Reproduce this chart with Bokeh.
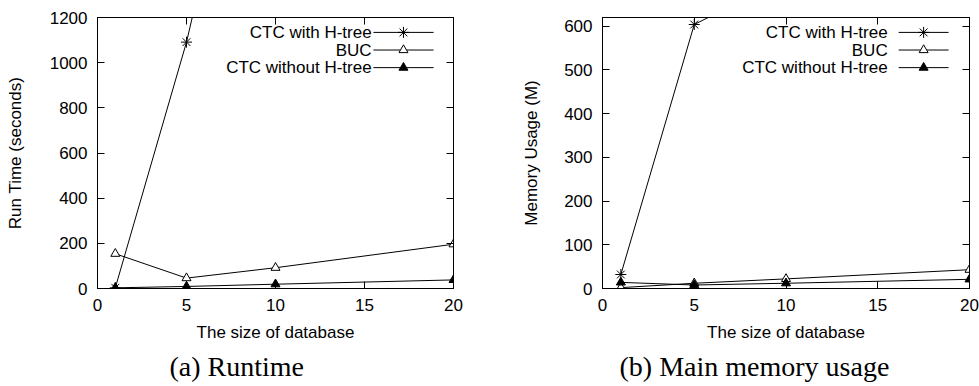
from bokeh.plotting import figure
from bokeh.layouts import row
from bokeh.models import LinearAxis, Range1d, FixedTicker, Title
from bokeh.core.properties import value
from bokeh.embed import file_html
from bokeh.resources import INLINE

# ---- data ----
db_size = [1, 5, 10, 20]
series_names = ["CTC with H-tree", "BUC", "CTC without H-tree"]

runtime_ctc_htree = [3, 1091, 2780, 6000]
runtime_buc = [154, 46, 92, 196]
runtime_ctc_no_htree = [3, 9, 19, 38]

memory_ctc_htree = [32, 604, 709, 900]
memory_buc = [2, 12, 22, 43]
memory_ctc_no_htree = [14, 8, 12, 21]

x_ticks = [0, 5, 10, 15, 20]
runtime_ticks = [0, 200, 400, 600, 800, 1000, 1200]
memory_ticks = [0, 100, 200, 300, 400, 500, 600]

SANS = "Liberation Sans"
SERIF = "Liberation Serif"
FS = "17px"
MARKERS = [("asterisk", None), ("triangle", "white"), ("triangle", "black")]


def make_panel(width, ymax, yticks, ylabel, caption, series, borders,
               ylabel_standoff, caption_offset, leg):
    bl, br = borders
    p = figure(width=width, height=386, x_range=Range1d(0, 20),
               y_range=Range1d(0, ymax), output_backend="svg",
               toolbar_location=None, min_border_left=bl,
               min_border_right=br, min_border_top=17, min_border_bottom=98)
    p.xgrid.visible = False
    p.ygrid.visible = False
    p.outline_line_color = "black"
    p.outline_line_width = 1
    p.background_fill_color = "white"
    p.border_fill_color = "white"

    for ax, ticks in ((p.xaxis[0], x_ticks), (p.yaxis[0], yticks)):
        ax.ticker = FixedTicker(ticks=ticks)
        ax.major_tick_in = 7
        ax.major_tick_out = 0
        ax.minor_tick_line_color = None
        ax.axis_line_color = "black"
        ax.major_tick_line_color = "black"
        ax.major_label_text_font = SANS
        ax.major_label_text_font_size = FS
        ax.major_label_text_color = "black"
        ax.axis_label_text_font = SANS
        ax.axis_label_text_font_size = FS
        ax.axis_label_text_font_style = "normal"
        ax.axis_label_text_color = "black"
    p.xaxis.major_label_standoff = 10
    p.yaxis.major_label_standoff = 10
    p.xaxis.axis_label = "The size of database"
    p.xaxis.axis_label_standoff = 9
    p.yaxis.axis_label = ylabel
    p.yaxis.axis_label_standoff = ylabel_standoff

    # mirrored ticks (gnuplot style), no labels
    for side, ticks in (("right", yticks), ("above", x_ticks)):
        ax = LinearAxis(ticker=FixedTicker(ticks=ticks))
        ax.major_tick_in = 7
        ax.major_tick_out = 0
        ax.minor_tick_line_color = None
        ax.major_label_text_color = None
        ax.major_label_standoff = 0
        ax.axis_line_color = "black"
        p.add_layout(ax, side)

    for ys, (marker, fill) in zip(series, MARKERS):
        p.line(db_size, ys, line_color="black", line_width=1)
        if fill is None:
            p.scatter(db_size, ys, marker=marker, size=11,
                      line_color="black", line_width=1)
        else:
            p.scatter(db_size, ys, marker=marker, size=9,
                      line_color="black", fill_color=fill, line_width=1)

    # legend (gnuplot style: text, then sample on the right) in frame units
    p.extra_x_ranges = {"lx": Range1d(0, 1)}
    p.extra_y_ranges = {"ly": Range1d(0, 1)}
    text_right, line_x0, line_x1, top, step = leg
    ly = [top - i * step for i in range(len(series_names))]
    p.text(x=[text_right] * 3, y=ly, text=series_names, text_align="right",
           text_baseline="middle", text_font=value(SANS),
           text_font_size=FS, text_color="black",
           x_range_name="lx", y_range_name="ly")
    p.segment(x0=[line_x0] * 3, x1=[line_x1] * 3, y0=ly, y1=ly,
              line_color="black", line_width=1,
              x_range_name="lx", y_range_name="ly")
    mid = (line_x0 + line_x1) / 2
    for yy, (marker, fill) in zip(ly, MARKERS):
        if fill is None:
            p.scatter([mid], [yy], marker=marker, size=11, line_color="black",
                      x_range_name="lx", y_range_name="ly")
        else:
            p.scatter([mid], [yy], marker=marker, size=9, line_color="black",
                      fill_color=fill, x_range_name="lx", y_range_name="ly")

    t = Title(text=caption, align="left", text_font=SERIF,
              text_font_size="28px", text_font_style="normal",
              text_color="black", offset=caption_offset, standoff=9)
    p.add_layout(t, "below")
    return p


p1 = make_panel(489, 1200, runtime_ticks, "Run Time (seconds)", "(a) Runtime",
                [runtime_ctc_htree, runtime_buc, runtime_ctc_no_htree],
                (97, 36), 22, 72, (0.77, 0.775, 0.944, 0.945, 0.065))
p2 = make_panel(490, 620, memory_ticks, "Memory Usage (M)",
                "(b) Main memory usage",
                [memory_ctc_htree, memory_buc, memory_ctc_no_htree],
                (113, 10), 20, 17, (0.777, 0.807, 0.943, 0.945, 0.065))

layout = row(p1, p2)
open("out.html", "w").write(file_html(layout, INLINE))
